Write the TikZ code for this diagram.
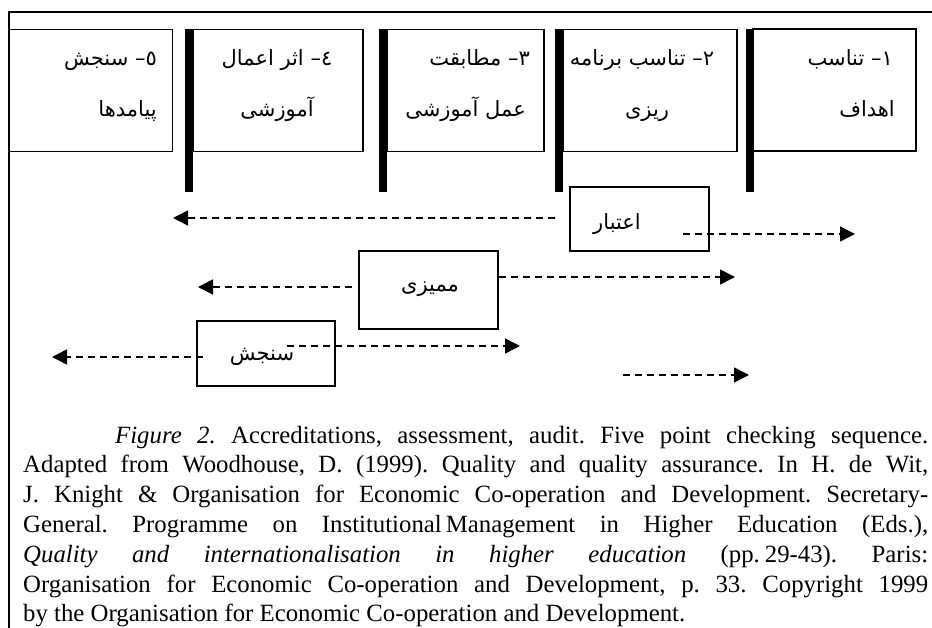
\documentclass[tikz,border=0pt]{standalone}
\usepackage{fontspec}
\setmainfont{Liberation Serif}
\newfontfamily\arabicfont[Script=Arabic]{DejaVu Sans}
\TeXXeTstate=1
\usepackage{tikz}
\usetikzlibrary{arrows.meta}

\tikzset{
  goalbox/.style={draw, line width=1.3pt, inner sep=0pt},
  fatext/.style={font=\arabicfont\fontsize{21}{24}\selectfont, inner sep=0pt},
  dasharrow/.style={line width=1.5pt, dash pattern=on 7pt off 5pt, -{Triangle[length=15pt,width=15pt]}}
}

\begin{document}
\begin{tikzpicture}[x=1pt,y=-1pt]
\useasboundingbox (0,0) rectangle (932,628);

\draw[line width=2pt] (9,630) -- (9,12) -- (934,12);

% the five checking steps
\node[goalbox, minimum width=164pt, minimum height=122pt] (s5) at (90.5,90.5) {};
\node[goalbox, minimum width=170pt, minimum height=122pt] (s4) at (278,90.5) {};
\node[goalbox, minimum width=157pt, minimum height=122pt] (s3) at (465.5,90.5) {};
\node[goalbox, minimum width=174pt, minimum height=122pt] (s2) at (650,90.5) {};
\node[goalbox, line width=2pt, minimum width=163pt, minimum height=122pt] (s1) at (834.5,90.5) {};

\foreach \x in {185,379,555,746}
  \fill (\x,29) rectangle ++(8,163);

\node[fatext, anchor=base east] (t5a) at (157,66) {\beginR ٥– سنجش\endR};
\node[fatext, anchor=base east] (t5b) at (157,117) {\beginR پیامدها\endR};
\node[fatext, anchor=base] (t4a) at (277,66) {\beginR ٤– اثر اعمال\endR};
\node[fatext, anchor=base] (t4b) at (277,117) {\beginR آموزشی\endR};
\node[fatext, anchor=base east] (t3a) at (530,66) {\beginR ٣– مطابقت\endR};
\node[fatext, anchor=base east] (t3b) at (526,117) {\beginR عمل آموزشی\endR};
\node[fatext, anchor=base] (t2a) at (642,66) {\beginR ٢– تناسب برنامه\endR};
\node[fatext, anchor=base] (t2b) at (647,117) {\beginR ریزی\endR};
\node[fatext, anchor=base east] (t1a) at (893,66) {\beginR ١– تناسب\endR};
\node[fatext, anchor=base east] (t1b) at (895,117) {\beginR اهداف\endR};

% accreditation, audit, assessment
\node[goalbox, minimum width=139pt, minimum height=64pt] (accr) at (639.5,219) {};
\node[fatext, anchor=base] at (617,230) {\beginR اعتبار\endR};
\node[goalbox, minimum width=139pt, minimum height=78pt] (audit) at (428.5,290) {};
\node[fatext, anchor=base] at (430,292) {\beginR ممیزی\endR};
\node[goalbox, minimum width=138pt, minimum height=65pt] (assess) at (266,353.5) {};
\node[fatext, anchor=base] at (262,361) {\beginR سنجش\endR};

\coordinate (accrL) at (173,218);
\coordinate (accrS) at (683,234);
\coordinate (accrR) at (855,234);
\coordinate (auditL) at (198,287);
\coordinate (auditR) at (735,277);
\coordinate (assessS) at (203,357);
\coordinate (assessL) at (52,357);
\coordinate (assessM) at (287,346);
\coordinate (assessR) at (520,346);
\coordinate (lastS) at (623,375);
\coordinate (lastR) at (749,375);

\draw[dasharrow, shorten <=14pt] (accr.west |- accrL) -- (accrL);
\draw[dasharrow] (accrS) -- (accrR);
\draw[dasharrow, shorten <=6pt] (audit.west |- auditL) -- (auditL);
\draw[dasharrow] (audit.east |- auditR) -- (auditR);
\draw[dasharrow] (assessS) -- (assessL);
\draw[dasharrow] (assessM) -- (assessR);
\draw[dasharrow] (lastS) -- (lastR);

\node[anchor=base west, inner sep=0pt, text width=905pt, align=justify,
  font=\fontsize{24.8}{29.8}\selectfont\frenchspacing] (caption) at (23,443)
{\hspace*{92pt}\textit{Figure 2.} Accreditations, assessment, audit. Five point checking sequence.\linebreak
Adapted from Woodhouse, D. (1999). Quality and quality assurance. In H. de Wit,\linebreak
J. Knight \& Organisation for Economic Co-operation and Development. Secretary-\linebreak{}General. Programme on Institutional\hspace{4pt}Management in Higher Education (Eds.),\linebreak
\textit{Quality and internationalisation in higher education} (pp.\hspace{5pt}29-43). Paris:\linebreak
Organisation for Economic Co-operation and Development, p. 33. Copyright 1999\linebreak
by the Organisation for Economic Co-operation and Development.};
\end{tikzpicture}
\end{document}
